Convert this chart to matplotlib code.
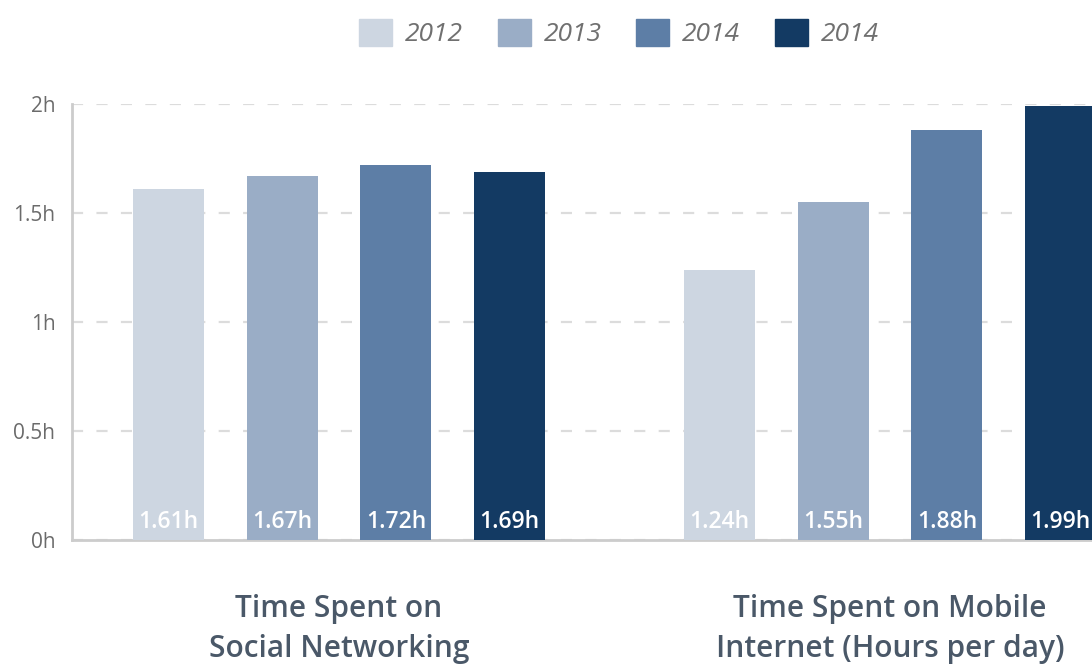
import numpy as np
import matplotlib
matplotlib.use("Agg")
import matplotlib.pyplot as plt
import matplotlib.patches as mpatches

# data
categories = ["Time Spent on\nSocial Networking", "Time Spent on Mobile\nInternet (Hours per day)"]
series_names = ["2012", "2013", "2014", "2014"]
values = [
    [1.61, 1.24],
    [1.67, 1.55],
    [1.72, 1.88],
    [1.69, 1.99],
]
colors = ["#cdd6e1", "#9aadc6", "#5d7ea6", "#133a63"]
yticks = [0, 0.5, 1, 1.5, 2]
ytick_labels = ["0h", "0.5h", "1h", "1.5h", "2h"]

plt.rcParams['font.family'] = ['Open Sans', 'DejaVu Sans']

fig = plt.figure(figsize=(10.92, 6.64), dpi=100)
ax = fig.add_axes([72 / 1092, 124 / 664, 1 - 72 / 1092, 436 / 664])

slot = 0.2064
width = 0.129
x = np.arange(len(categories))

for i, (name, vals, c) in enumerate(zip(series_names, values, colors)):
    pos = x + (i - 1.5) * slot
    ax.bar(pos, vals, width=width, color=c, zorder=3)
    for p, v in zip(pos, vals):
        ax.annotate(f"{v:.2f}h", xy=(p, 0), xytext=(0, 8.5), textcoords="offset points",
                    ha="center", va="baseline", color="white", fontsize=16.5,
                    fontweight="semibold", zorder=4)

ax.set_xlim(-0.4846, 1.3666)
ax.set_ylim(0, 2)
ax.set_yticks(yticks)
ax.set_yticklabels(ytick_labels, color="#6b6b6b", fontsize=15)
ax.tick_params(axis="y", length=0, pad=12)
ax.set_xticks([])

ax.grid(axis="y", color="#dcdcdc", linestyle=(0, (5, 6)), linewidth=1.6, zorder=0)
for s in ["top", "right"]:
    ax.spines[s].set_visible(False)
for s in ["left", "bottom"]:
    ax.spines[s].set_color("#cccccc")
    ax.spines[s].set_linewidth(2)

for xi, cat in zip(x, categories):
    ax.annotate(cat, xy=(xi, 0), xytext=(0, -39), textcoords="offset points",
                ha="center", va="top", fontsize=21.5, color="#4a5868",
                fontweight="semibold", linespacing=1.42, annotation_clip=False)

handles = [mpatches.Patch(color=c, label=n) for c, n in zip(colors, series_names)]
leg = fig.legend(handles=handles, ncol=4, loc="center", bbox_to_anchor=(619 / 1092, 1 - 33 / 664),
                 frameon=False, handlelength=1.25, handleheight=1.25, handletextpad=0.5,
                 columnspacing=1.3, prop={"style": "italic", "size": 19})
for t in leg.get_texts():
    t.set_color("#707070")

fig.savefig("out.png", dpi=100)
